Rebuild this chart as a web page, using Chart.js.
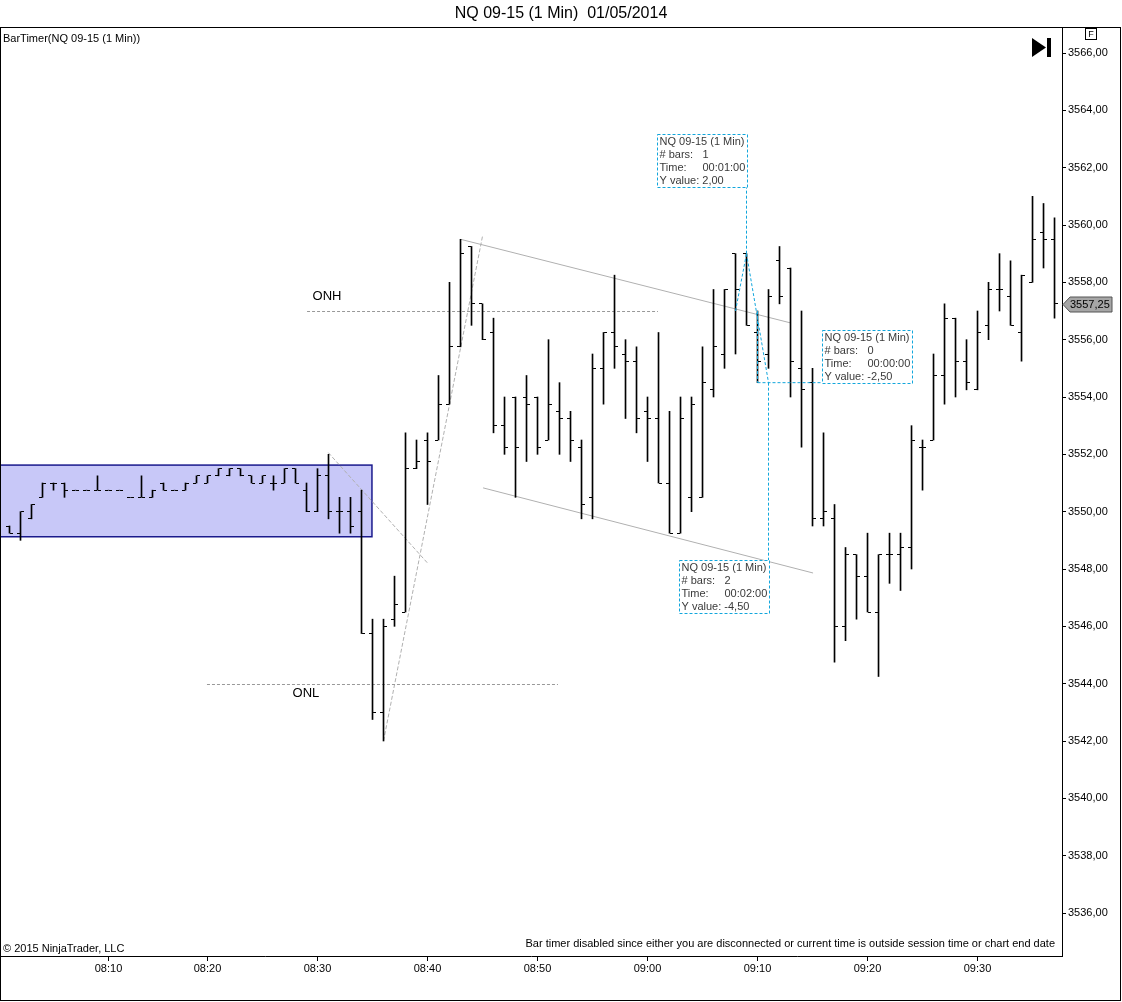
<!DOCTYPE html>
<html>
<head>
<meta charset="utf-8">
<title>NQ 09-15 (1 Min)</title>
<script src="https://cdn.jsdelivr.net/npm/chart.js@4.4.1/dist/chart.umd.min.js"></script>
<style>
  html, body { margin: 0; padding: 0; background: #fff; }
  #wrap { width: 1122px; height: 1002px; position: relative; }
</style>
</head>
<body>
<div id="wrap"><canvas id="grafico"></canvas></div>
<script>
// Barras de 1 minuto (falta um minuto entre 08:10 e 08:20)
const times = [
  "08:01","08:02","08:03","08:04","08:05","08:06","08:07","08:08","08:09","08:10",
  "08:11","08:12","08:13","08:14","08:16","08:17","08:18","08:19","08:20","08:21",
  "08:22","08:23","08:24","08:25","08:26","08:27","08:28","08:29","08:30","08:31",
  "08:32","08:33","08:34","08:35","08:36","08:37","08:38","08:39","08:40","08:41",
  "08:42","08:43","08:44","08:45","08:46","08:47","08:48","08:49","08:50","08:51",
  "08:52","08:53","08:54","08:55","08:56","08:57","08:58","08:59","09:00","09:01",
  "09:02","09:03","09:04","09:05","09:06","09:07","09:08","09:09","09:10","09:11",
  "09:12","09:13","09:14","09:15","09:16","09:17","09:18","09:19","09:20","09:21",
  "09:22","09:23","09:24","09:25","09:26","09:27","09:28","09:29","09:30","09:31",
  "09:32","09:33","09:34","09:35","09:36","09:37"
];
const opens = [
  3549.5,3549.25,3549.75,3550.5,3551,3551,3550.75,3550.75,3550.75,3550.75,
  3550.75,3550.5,3550.5,3550.5,3551,3550.75,3550.75,3551,3551,3551.25,
  3551.25,3551.5,3551.25,3551,3551,3551,3551.5,3550.75,3550,3551.25,
  3550,3550,3550,3545.75,3543,3546.25,3546.5,3551.5,3552.5,3552.5,
  3553.75,3555.75,3559.25,3557.25,3556.25,3553,3554,3554,3554,3552.5,
  3553.5,3553.25,3552.25,3550.5,3555,3556.25,3555.5,3555.25,3553.5,3553.25,
  3551,3549.25,3550.5,3550.5,3554.25,3555.5,3559,3559,3556.25,3555.5,
  3558.75,3558.5,3555,3554.5,3549.75,3549.75,3546,3548.5,3547.75,3546.5,
  3548.5,3548.5,3548.75,3552.25,3552.5,3554.75,3556.75,3555.25,3554.25,3556.5,
  3557.75,3557.5,3556.25,3558,3559.75,3559.5
];
const highs = [
  3549.5,3550,3550.25,3551,3551,3551,3550.75,3550.75,3551.25,3550.75,
  3550.75,3550.5,3551.25,3550.75,3551,3550.75,3551,3551.25,3551.25,3551.5,
  3551.5,3551.5,3551.25,3551.25,3551.25,3551.5,3551.5,3551,3551.5,3552,
  3550.5,3550.5,3550.75,3546.25,3546.25,3547.75,3552.75,3552.5,3552.75,3554.75,
  3558,3559.5,3559.25,3557.25,3556.75,3554,3554,3554.75,3554,3556,
  3554.5,3553.5,3552.5,3555.5,3556.25,3558.25,3556,3555.75,3554,3556.25,
  3553.5,3554,3554,3555.75,3557.75,3557.75,3559,3559,3557,3557.75,
  3559.25,3558.5,3557,3555,3552.75,3550.25,3548.75,3548.5,3549.25,3548.5,
  3549.25,3549.25,3553,3552.5,3555.5,3557.25,3556.75,3556,3557,3558,
  3559,3558.75,3558.25,3561,3560.75,3560.25
];
const lows = [
  3549.25,3549,3549.75,3550.5,3550.75,3550.5,3550.75,3550.75,3550.75,3550.75,
  3550.75,3550.5,3550.5,3550.5,3550.75,3550.75,3550.75,3551,3551,3551.25,
  3551.25,3551.25,3551,3551,3550.75,3551,3551,3550,3550,3549.75,
  3549.25,3549.25,3545.75,3542.75,3542,3546,3546.5,3551.5,3550.25,3552.5,
  3553.75,3555.75,3556.5,3556,3552.75,3552,3550.5,3551.75,3552,3552.5,
  3552,3551.75,3549.75,3549.75,3553.75,3555,3553.25,3552.75,3551.75,3551,
  3549.25,3549.25,3550,3550.5,3554,3555,3555.5,3556.5,3554.5,3555,
  3557.25,3554,3552.25,3549.5,3549.5,3544.75,3545.5,3546.25,3546.5,3544.25,
  3547.5,3547.25,3548,3550.75,3552.5,3553.75,3554,3554.25,3554.25,3556,
  3557,3556.5,3555.25,3558,3558.5,3556.75
];
const closes = [
  3549.25,3550,3550.25,3551,3551,3550.75,3550.75,3550.75,3550.75,3550.75,
  3550.75,3550.5,3550.5,3550.75,3550.75,3550.75,3551,3551.25,3551.25,3551.5,
  3551.5,3551.25,3551,3551.25,3551,3551.5,3551,3550,3551.25,3550,
  3550,3549.5,3545.75,3543,3546,3546.75,3551.5,3551.75,3551.75,3553.75,
  3555.75,3559,3557.25,3556,3553,3552.25,3552.25,3553.75,3552.25,3553.75,
  3553.25,3552.5,3550.25,3555,3556.25,3555.75,3555.25,3553.25,3553.25,3551,
  3549.25,3553.25,3553.75,3554.5,3555.75,3557.75,3557.75,3556.5,3555.25,3557.5,
  3557.5,3555.25,3554.25,3549.75,3550,3546,3548.5,3547.75,3546.5,3548.5,
  3548.5,3548.75,3552.5,3552.25,3554.75,3556.75,3555.25,3554.5,3556.25,3557.75,
  3557.75,3556.5,3558.25,3559.5,3559.5,3557.25
];

// Objetos de desenho (coordenadas: índice da barra, preço)
const zone = { x1: -0.9, x2: 32.95, top: 3551.625, bottom: 3549.125 };
const levels = [
  { label: "ONH", from: 27.05, to: 58.95, price: 3557, lx: 28.86, ly: 3557.52 },
  { label: "ONL", from: 17.95, to: 49.86, price: 3544, lx: 26.95, ly: 3543.67 }
];
const trendLines = [
  { a: [28.98, 3552.06], b: [38.02, 3548.2], dash: [4, 2] },
  { a: [34, 3542], b: [43.02, 3559.65], dash: [4, 2] },
  { a: [41.02, 3559.5], b: [70.95, 3556.59], dash: [] },
  { a: [43.05, 3550.83], b: [73.05, 3547.86], dash: [] }
];
const rulers = [
  { from: [66, 3557], to: [67, 3559], anchor: [67, 3561.33], corner: "br",
    bars: "1", time: "00:01:00", yval: "2,00" },
  { from: [68, 3557], to: [68, 3554.5], anchor: [73.86, 3554.5], corner: "bl",
    bars: "0", time: "00:00:00", yval: "-2,50" },
  { from: [67, 3559], to: [69, 3554.5], anchor: [69, 3548.31], corner: "tr",
    bars: "2", time: "00:02:00", yval: "-4,50" }
];

const FONT = "'Liberation Sans', Arial, sans-serif";
const CYAN = "#12a6dc";

// tracinhos de abertura (esquerda) e fechamento (direita)
function tickImg(lado) {
  const c = document.createElement("canvas");
  c.width = 7; c.height = 1;
  const g = c.getContext("2d");
  g.fillStyle = "#000";
  g.fillRect(lado === "esq" ? 0 : 4, 0, 3, 1);
  return c;
}

function line(ctx, x1, y1, x2, y2) {
  ctx.beginPath(); ctx.moveTo(x1, y1); ctx.lineTo(x2, y2); ctx.stroke();
}

const desenhos = {
  id: "desenhos",
  beforeDatasetsDraw(chart) {
    const { ctx, chartArea: a, scales: { x, y } } = chart;
    ctx.save();
    ctx.beginPath(); ctx.rect(a.left, a.top, a.right - a.left, a.bottom - a.top); ctx.clip();
    // zona azul
    const zx1 = Math.max(x.getPixelForValue(zone.x1), a.left - 2);
    const zx2 = x.getPixelForValue(zone.x2);
    const zy1 = y.getPixelForValue(zone.top), zy2 = y.getPixelForValue(zone.bottom);
    ctx.fillStyle = "rgb(200,200,248)";
    ctx.fillRect(zx1, zy1, zx2 - zx1, zy2 - zy1);
    ctx.strokeStyle = "#1a1a8c"; ctx.lineWidth = 1.5;
    ctx.strokeRect(zx1, zy1, zx2 - zx1, zy2 - zy1);
    // linhas de tendência
    ctx.strokeStyle = "#b0b0b0"; ctx.lineWidth = 1;
    trendLines.forEach(t => {
      ctx.setLineDash(t.dash);
      line(ctx, x.getPixelForValue(t.a[0]), y.getPixelForValue(t.a[1]),
                x.getPixelForValue(t.b[0]), y.getPixelForValue(t.b[1]));
    });
    // ONH / ONL
    ctx.setLineDash([3, 2]);
    ctx.strokeStyle = "#999";
    ctx.fillStyle = "#000";
    ctx.font = "13px " + FONT;
    ctx.textAlign = "center"; ctx.textBaseline = "middle";
    levels.forEach(l => {
      const py = Math.round(y.getPixelForValue(l.price)) + 0.5;
      line(ctx, x.getPixelForValue(l.from), py, x.getPixelForValue(l.to), py);
      ctx.fillText(l.label, x.getPixelForValue(l.lx), y.getPixelForValue(l.ly));
    });
    ctx.restore();
  },
  afterDatasetsDraw(chart) {
    const { ctx, scales: { x, y } } = chart;
    ctx.save();
    ctx.lineWidth = 1; ctx.setLineDash([3, 2]);
    ctx.font = "11px " + FONT;
    ctx.textBaseline = "middle"; ctx.textAlign = "left";
    const W = 90, H = 53;
    rulers.forEach(r => {
      const fx = x.getPixelForValue(r.from[0]), fy = y.getPixelForValue(r.from[1]);
      const tx = x.getPixelForValue(r.to[0]), ty = y.getPixelForValue(r.to[1]);
      const ax = x.getPixelForValue(r.anchor[0]), ay = y.getPixelForValue(r.anchor[1]);
      ctx.strokeStyle = CYAN;
      line(ctx, fx, fy, tx, ty);
      line(ctx, tx, ty, ax, ay);
      let bx = r.corner === "bl" ? ax : ax - W;
      let by = r.corner === "tr" ? ay : ay - H;
      bx = Math.round(bx) + 0.5; by = Math.round(by) + 0.5;
      ctx.fillStyle = "#fff";
      ctx.fillRect(bx, by, W, H);
      ctx.strokeStyle = CYAN;
      ctx.strokeRect(bx, by, W, H);
      ctx.fillStyle = "#3a3a3a";
      const ls = [["NQ 09-15 (1 Min)", ""], ["# bars:", r.bars], ["Time:", r.time], ["Y value: " + r.yval, ""]];
      ls.forEach((p, k) => {
        const yy = by + 7 + 13 * k;
        ctx.fillText(p[0], bx + 2, yy);
        if (p[1]) ctx.fillText(p[1], bx + 45, yy);
      });
    });
    ctx.restore();
  },
  afterDraw(chart) {
    const { ctx, chartArea: a, scales: { y } } = chart;
    ctx.save();
    ctx.strokeStyle = "#000"; ctx.lineWidth = 1;
    ctx.strokeRect(0.5, 27.5, 1120, 973);
    ctx.fillStyle = "#000";
    ctx.font = "11px " + FONT;
    ctx.textBaseline = "middle";
    ctx.textAlign = "left";
    ctx.fillText("BarTimer(NQ 09-15 (1 Min))", 3, 39);
    ctx.fillText("\u00a9 2015 NinjaTrader, LLC", 3, 949);
    ctx.textAlign = "right";
    ctx.fillText("Bar timer disabled since either you are disconnected or current time is outside session time or chart end date", 1055, 944);
    // ícone ▶|
    ctx.beginPath();
    ctx.moveTo(1032, 38); ctx.lineTo(1046, 47.5); ctx.lineTo(1032, 57); ctx.closePath(); ctx.fill();
    ctx.fillRect(1047, 38, 4, 19);
    // caixa F
    ctx.strokeRect(1085.5, 28.5, 11, 11);
    ctx.font = "9px " + FONT; ctx.textAlign = "center";
    ctx.fillText("F", 1091, 34.5);
    // marcador do último preço
    const last = closes[closes.length - 1];
    const py = Math.round(y.getPixelForValue(last)) + 0.5;
    ctx.beginPath();
    ctx.moveTo(a.right + 1, py);
    ctx.lineTo(a.right + 8, py - 7.5);
    ctx.lineTo(1112, py - 7.5);
    ctx.lineTo(1112, py + 7.5);
    ctx.lineTo(a.right + 8, py + 7.5);
    ctx.closePath();
    ctx.fillStyle = "#a6a6a6"; ctx.fill();
    ctx.strokeStyle = "#555"; ctx.stroke();
    ctx.fillStyle = "#000"; ctx.font = "11px " + FONT; ctx.textAlign = "left";
    ctx.fillText(last.toFixed(2).replace(".", ","), a.right + 8, py + 0.5);
    ctx.restore();
  }
};

const idx = times.map((t, i) => i);
const xTicks = idx.filter(i => times[i].endsWith("0"));

document.addEventListener("DOMContentLoaded", function() {
  new Chart(document.getElementById("grafico"), {
    type: "bar",
    data: {
      datasets: [
        {
          label: "Abertura",
          type: "line",
          data: idx.map(i => ({ x: i, y: opens[i] })),
          showLine: false,
          pointStyle: tickImg("esq"),
          pointRadius: 3
        },
        {
          label: "Fechamento",
          type: "line",
          data: idx.map(i => ({ x: i, y: closes[i] })),
          showLine: false,
          pointStyle: tickImg("dir"),
          pointRadius: 3
        },
        {
          label: "Máx/Mín",
          data: idx.map(i => ({ x: i, y: [lows[i], highs[i]] })),
          backgroundColor: "#000",
          borderWidth: 0,
          barThickness: 1,
          grouped: false
        }
      ]
    },
    options: {
      responsive: true,
      maintainAspectRatio: false,
      animation: false,
      devicePixelRatio: 1,
      layout: { autoPadding: false, padding: { top: 0, left: 0, right: 0, bottom: 2 } },
      plugins: {
        legend: { display: false },
        tooltip: { enabled: false },
        title: {
          display: true,
          text: "NQ 09-15 (1 Min)  01/05/2014",
          color: "#000",
          font: { family: FONT, size: 16, weight: "normal" },
          padding: { top: 3.5, bottom: 4.3 }
        }
      },
      scales: {
        x: {
          type: "linear",
          offset: false,
          min: -9.5 / 11,
          max: 95.68,
          afterBuildTicks: s => { s.ticks = xTicks.map(v => ({ value: v })); },
          afterFit: s => { s.height = 44; s.paddingLeft = 0; s.paddingRight = 0; },
          grid: { drawOnChartArea: false, drawTicks: true, tickLength: 5, color: "#000", offset: false },
          border: { display: true, color: "#000" },
          ticks: {
            color: "#000",
            font: { family: FONT, size: 11 },
            padding: 1,
            maxRotation: 0,
            autoSkip: false,
            callback: v => times[v]
          }
        },
        y: {
          position: "right",
          beginAtZero: false,
          min: 3534.5,
          max: 3566.907,
          afterFit: s => { s.width = 60; s.paddingTop = 0; s.paddingBottom = 0; },
          grid: { drawOnChartArea: false, drawTicks: true, tickLength: 4, color: "#000" },
          border: { display: true, color: "#000" },
          ticks: {
            stepSize: 2,
            includeBounds: false,
            color: "#000",
            padding: 2,
            font: { family: FONT, size: 11 },
            callback: v => v.toFixed(2).replace(".", ",")
          }
        }
      }
    },
    plugins: [desenhos]
  });
});
</script>
</body>
</html>
